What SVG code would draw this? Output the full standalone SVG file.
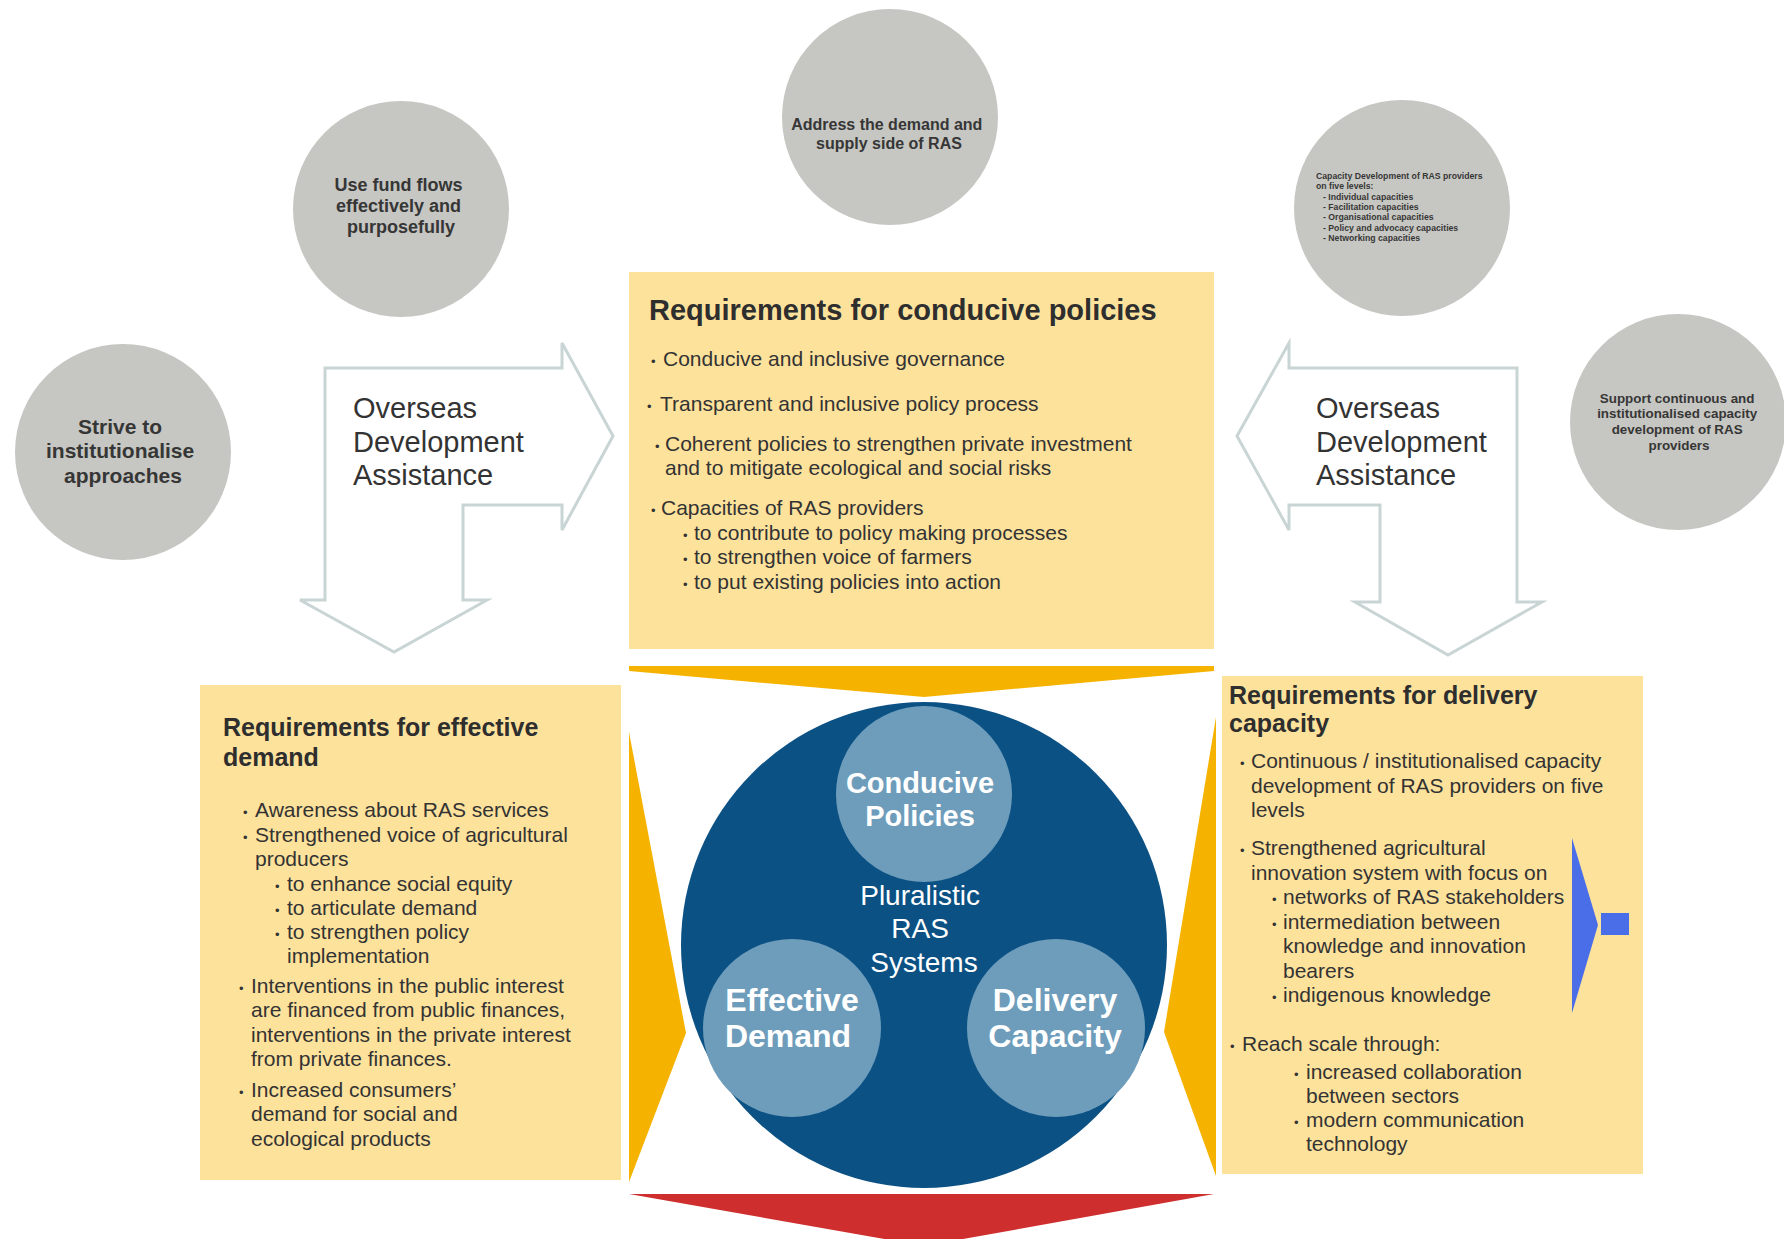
<svg xmlns="http://www.w3.org/2000/svg" width="1784" height="1239" viewBox="0 0 1784 1239">
  <style>
    text { font-family: "Liberation Sans", Arial, sans-serif; }
    .gray { fill: #c6c6c2; }
    .gtxt { fill: #363636; font-weight: bold; text-anchor: middle; }
    .box { fill: #fde29c; }
    .ttl { fill: #2e2e2e; font-weight: bold; }
    .bt { fill: #333333; font-size: 21px; }
    .bul { font-size: 13px; }
    .oda { fill: #ffffff; stroke: #c9d4d4; stroke-width: 3; stroke-linejoin: miter; }
    .odat { fill: #333333; font-size: 29px; }
    .chev { fill: #f5b300; }
    .inner { fill: #6e9dbb; }
    .wl { fill: #ffffff; font-weight: bold; text-anchor: middle; }
  </style>

  <rect width="1784" height="1239" fill="#ffffff"/>

  <!-- Gray circles -->
  <g id="node-strive">
    <circle class="gray" cx="123" cy="452" r="108"/>
    <text class="gtxt" font-size="21">
      <tspan x="123" y="434">Strive to</tspan>
      <tspan x="123" y="458">institutionalise</tspan>
      <tspan x="123" y="483">approaches</tspan>
    </text>
  </g>
  <g id="node-fundflows">
    <circle class="gray" cx="401" cy="209" r="108"/>
    <text class="gtxt" font-size="18">
      <tspan x="401" y="191">Use fund flows</tspan>
      <tspan x="401" y="212">effectively and</tspan>
      <tspan x="401" y="233">purposefully</tspan>
    </text>
  </g>
  <g id="node-address">
    <circle class="gray" cx="890" cy="117" r="108"/>
    <text class="gtxt" font-size="16">
      <tspan x="889" y="130">Address the demand and</tspan>
      <tspan x="889" y="149">supply side of RAS</tspan>
    </text>
  </g>
  <g id="node-capdev">
    <circle class="gray" cx="1402" cy="208" r="108"/>
    <text fill="#363636" font-weight="bold" font-size="8.7">
      <tspan x="1316" y="179">Capacity Development of RAS providers</tspan>
      <tspan x="1316" y="189.3">on five levels:</tspan>
      <tspan x="1323" y="199.6">- Individual capacities</tspan>
      <tspan x="1323" y="209.9">- Facilitation capacities</tspan>
      <tspan x="1323" y="220.2">- Organisational capacities</tspan>
      <tspan x="1323" y="230.5">- Policy and advocacy capacities</tspan>
      <tspan x="1323" y="240.8">- Networking capacities</tspan>
    </text>
  </g>
  <g id="node-support">
    <circle class="gray" cx="1678" cy="422" r="108"/>
    <text class="gtxt" font-size="13.4">
      <tspan x="1679" y="403">Support continuous and</tspan>
      <tspan x="1679" y="418">institutionalised capacity</tspan>
      <tspan x="1679" y="434">development of RAS</tspan>
      <tspan x="1679" y="450">providers</tspan>
    </text>
  </g>

  <!-- Connectors: ODA arrows and chevrons -->
  <g id="connectors">
    <g id="oda-left">
      <path class="oda" d="M325,368 L562,368 L562,343 L613,436 L562,530 L562,505 L463,505 L463,600 L487,600 L394,652 L300,600 L325,600 Z"/>
      <text class="odat">
        <tspan x="353" y="418">Overseas</tspan>
        <tspan x="353" y="452">Development</tspan>
        <tspan x="353" y="485">Assistance</tspan>
      </text>
    </g>
    <g id="oda-right">
      <path class="oda" d="M1517,368 L1289,368 L1289,343 L1237,436 L1289,530 L1289,505 L1380,505 L1380,602 L1355,602 L1448,655 L1542,602 L1517,602 Z"/>
      <text class="odat">
        <tspan x="1316" y="418">Overseas</tspan>
        <tspan x="1316" y="452">Development</tspan>
        <tspan x="1316" y="485">Assistance</tspan>
      </text>
    </g>
    <polygon id="chev-top" class="chev" points="629,666 1214,666 1214,671 924,697 629,671"/>
    <polygon id="chev-left" class="chev" points="629,732 686,1033 629,1182"/>
    <polygon id="chev-right" class="chev" points="1216,717 1164,1032 1216,1176"/>
    <polygon id="chev-bottom" fill="#cf2e2e" points="629,1194 1214,1194 924,1246"/>
  </g>

  <!-- Top box -->
  <g id="node-policies-req">
    <rect class="box" x="629" y="272" width="585" height="377"/>
    <text class="ttl" x="649" y="320" font-size="29">Requirements for conducive policies</text>
    <text class="bt"><tspan class="bul" x="651" y="366">•</tspan><tspan x="663" y="366">Conducive and inclusive governance</tspan></text>
    <text class="bt"><tspan class="bul" x="647" y="411">•</tspan><tspan x="660" y="411">Transparent and inclusive policy process</tspan></text>
    <text class="bt"><tspan class="bul" x="655" y="451">•</tspan><tspan x="665" y="451">Coherent policies to strengthen private investment</tspan><tspan x="665" y="475">and to mitigate ecological and social risks</tspan></text>
    <text class="bt"><tspan class="bul" x="651" y="515">•</tspan><tspan x="661" y="515">Capacities of RAS providers</tspan></text>
    <text class="bt"><tspan class="bul" x="683" y="540">•</tspan><tspan x="694" y="540">to contribute to policy making processes</tspan></text>
    <text class="bt"><tspan class="bul" x="683" y="564">•</tspan><tspan x="694" y="564">to strengthen voice of farmers</tspan></text>
    <text class="bt"><tspan class="bul" x="683" y="589">•</tspan><tspan x="694" y="589">to put existing policies into action</tspan></text>
  </g>

  <!-- Left box -->
  <g id="node-demand-req">
    <rect class="box" x="200" y="685" width="421" height="495"/>
    <text class="ttl" font-size="25"><tspan x="223" y="736">Requirements for effective</tspan><tspan x="223" y="766">demand</tspan></text>
    <text class="bt"><tspan class="bul" x="243" y="817">•</tspan><tspan x="255" y="817">Awareness about RAS services</tspan></text>
    <text class="bt"><tspan class="bul" x="243" y="842">•</tspan><tspan x="255" y="842">Strengthened voice of agricultural</tspan><tspan x="255" y="866">producers</tspan></text>
    <text class="bt"><tspan class="bul" x="275" y="891">•</tspan><tspan x="287" y="891">to enhance social equity</tspan></text>
    <text class="bt"><tspan class="bul" x="275" y="915">•</tspan><tspan x="287" y="915">to articulate demand</tspan></text>
    <text class="bt"><tspan class="bul" x="275" y="939">•</tspan><tspan x="287" y="939">to strengthen policy</tspan><tspan x="287" y="963">implementation</tspan></text>
    <text class="bt"><tspan class="bul" x="239" y="993">•</tspan><tspan x="251" y="993">Interventions in the public interest</tspan><tspan x="251" y="1017">are financed from public finances,</tspan><tspan x="251" y="1042">interventions in the private interest</tspan><tspan x="251" y="1066">from private finances.</tspan></text>
    <text class="bt"><tspan class="bul" x="239" y="1097">•</tspan><tspan x="251" y="1097">Increased consumers’</tspan><tspan x="251" y="1121">demand for social and</tspan><tspan x="251" y="1146">ecological products</tspan></text>
  </g>

  <!-- Right box -->
  <g id="node-delivery-req">
    <rect class="box" x="1222" y="676" width="421" height="498"/>
    <text class="ttl" font-size="25"><tspan x="1229" y="704">Requirements for delivery</tspan><tspan x="1229" y="732">capacity</tspan></text>
    <text class="bt"><tspan class="bul" x="1240" y="768">•</tspan><tspan x="1251" y="768">Continuous / institutionalised capacity</tspan><tspan x="1251" y="793">development of RAS providers on five</tspan><tspan x="1251" y="817">levels</tspan></text>
    <text class="bt"><tspan class="bul" x="1240" y="855">•</tspan><tspan x="1251" y="855">Strengthened agricultural</tspan><tspan x="1251" y="880">innovation system with focus on</tspan></text>
    <text class="bt"><tspan class="bul" x="1272" y="904">•</tspan><tspan x="1283" y="904">networks of RAS stakeholders</tspan></text>
    <text class="bt"><tspan class="bul" x="1272" y="929">•</tspan><tspan x="1283" y="929">intermediation between</tspan><tspan x="1283" y="953">knowledge and innovation</tspan><tspan x="1283" y="978">bearers</tspan></text>
    <text class="bt"><tspan class="bul" x="1272" y="1002">•</tspan><tspan x="1283" y="1002">indigenous knowledge</tspan></text>
    <text class="bt"><tspan class="bul" x="1230" y="1051">•</tspan><tspan x="1242" y="1051">Reach scale through:</tspan></text>
    <text class="bt"><tspan class="bul" x="1294" y="1079">•</tspan><tspan x="1306" y="1079">increased collaboration</tspan><tspan x="1306" y="1103">between sectors</tspan></text>
    <text class="bt"><tspan class="bul" x="1294" y="1127">•</tspan><tspan x="1306" y="1127">modern communication</tspan><tspan x="1306" y="1151">technology</tspan></text>
    <polygon fill="#4a6ee8" points="1572,838 1598,925 1572,1013"/>
    <rect x="1601" y="913" width="28" height="22" fill="#4a6ee8"/>
  </g>

  <!-- Central system -->
  <g id="node-system">
    <circle cx="924" cy="945" r="243" fill="#0b5184"/>
    <text fill="#ffffff" font-size="28" text-anchor="middle">
      <tspan x="924" y="905">Pluralistic</tspan>
      <tspan x="924" y="938">RAS</tspan>
      <tspan x="924" y="972">Systems</tspan>
    </text>
  </g>
  <g id="node-conducive">
    <circle class="inner" cx="924" cy="794" r="88"/>
    <text class="wl" font-size="29"><tspan x="920" y="793">Conducive</tspan><tspan x="920" y="826">Policies</tspan></text>
  </g>
  <g id="node-effective">
    <circle class="inner" cx="792" cy="1028" r="89"/>
    <text class="wl" font-size="32"><tspan x="792" y="1011">Effective</tspan><tspan x="788" y="1047">Demand</tspan></text>
  </g>
  <g id="node-deliverycap">
    <circle class="inner" cx="1056" cy="1028" r="89"/>
    <text class="wl" font-size="32"><tspan x="1055" y="1011">Delivery</tspan><tspan x="1055" y="1047">Capacity</tspan></text>
  </g>
</svg>
